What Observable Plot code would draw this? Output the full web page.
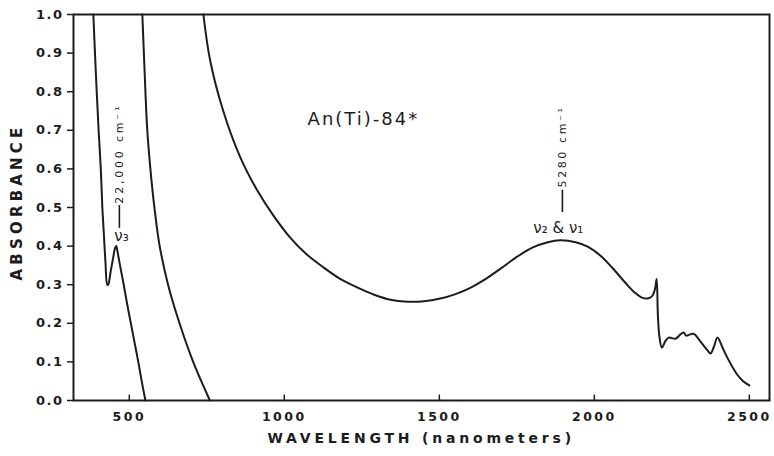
<!DOCTYPE html>
<html>
<head>
<meta charset="utf-8">
<script src="https://cdn.jsdelivr.net/npm/d3@7"></script>
<script src="https://cdn.jsdelivr.net/npm/@observablehq/plot@0.6"></script>
<style>
  html, body { margin: 0; padding: 0; background: #fff; }
  #chart svg { display: block; }
  #chart text { fill: #1c1c1c; }
  g[aria-label="y-axis tick label"] text { letter-spacing: 1.5px; font-weight: bold; }
  g[aria-label="x-axis tick label"] text { letter-spacing: 2.5px; font-weight: bold; }
</style>
</head>
<body>
<div id="chart"></div>
<script>
// ---- data ----
const xTicks = [500, 1000, 1500, 2000, 2500];
const yTicks = [0, 0.1, 0.2, 0.3, 0.4, 0.5, 0.6, 0.7, 0.8, 0.9, 1.0];

// curve 1 (leftmost, with the nu3 feature)
const curve1Nm  = [384, 392, 401, 408, 413, 418, 423, 429, 432, 440, 448, 454, 458, 461, 470, 482, 493, 505, 517, 529, 540, 552];
const curve1Abs = [1.0, 0.85, 0.7, 0.6, 0.5, 0.43, 0.36, 0.30, 0.30, 0.335, 0.37, 0.395, 0.40, 0.39, 0.35, 0.30, 0.25, 0.20, 0.15, 0.10, 0.05, 0.0];

// curve 2 (middle)
const curve2Nm  = [542, 547, 552, 558, 568, 581, 598, 625, 662, 706, 760];
const curve2Abs = [1.0, 0.9, 0.8, 0.7, 0.6, 0.5, 0.4, 0.3, 0.2, 0.1, 0.0];

// curve 3 (An(Ti)-84*)
const curve3Nm  = [739, 761, 803, 858, 913, 965, 1019, 1070, 1126, 1180, 1235, 1290, 1342, 1397, 1450, 1503, 1550, 1600, 1650, 1700, 1750, 1800, 1850, 1890, 1940, 1980, 2020, 2060, 2100, 2130, 2155, 2175, 2188, 2196, 2201, 2205, 2210, 2218, 2230, 2240, 2262, 2276, 2288, 2296, 2305, 2320, 2345, 2365, 2375, 2386, 2397, 2412, 2429, 2460, 2480, 2500];
const curve3Abs = [1.0, 0.88, 0.75, 0.63, 0.544, 0.479, 0.422, 0.38, 0.345, 0.315, 0.293, 0.274, 0.261, 0.256, 0.257, 0.264, 0.275, 0.292, 0.315, 0.343, 0.372, 0.396, 0.41, 0.415, 0.41, 0.398, 0.375, 0.342, 0.305, 0.28, 0.266, 0.265, 0.272, 0.29, 0.315, 0.22, 0.165, 0.137, 0.155, 0.163, 0.16, 0.17, 0.176, 0.168, 0.17, 0.173, 0.15, 0.13, 0.122, 0.14, 0.163, 0.14, 0.111, 0.068, 0.05, 0.039];

// annotations (data-space anchors)
const sampleLabel = ["An(Ti)-84*"];
const sampleAt = [1075, 0.728];
const bandLabels = ["ν₃", "ν₂ & ν₁"];
const bandNm = [475, 1884];
const bandAbs = [0.425, 0.447];
const waveLabels = ["22,000 cm⁻¹", "5280 cm⁻¹"];
const waveNm = [468, 1897];
const waveAbsStart = [0.51, 0.552];
const barAbsLow = [0.446, 0.487];
const barAbsHigh = [0.505, 0.545];

const xLabel = "WAVELENGTH (nanometers)";
const yLabel = "ABSORBANCE";

// ---- build tables ----
const toRows = (xs, ys, name) => xs.map((x, i) => ({nm: x, abs: ys[i], curve: name}));
const rows = [
  ...toRows(curve1Nm, curve1Abs, "c1"),
  ...toRows(curve2Nm, curve2Abs, "c2"),
  ...toRows(curve3Nm, curve3Abs, "c3")
];
const bands = bandLabels.map((t, i) => ({t, x: bandNm[i], y: bandAbs[i]}));
const waves = waveLabels.map((t, i) => ({t, x: waveNm[i], y: waveAbsStart[i], y1: barAbsLow[i], y2: barAbsHigh[i]}));

const chart = Plot.plot({
  width: 774,
  height: 456,
  marginLeft: 73,
  marginRight: 5,
  marginTop: 14,
  marginBottom: 56,
  style: {fontFamily: "DejaVu Sans, sans-serif", fontSize: "13px", background: "#fff", color: "#1c1c1c"},
  x: {domain: [320, 2565]},
  y: {domain: [0, 1]},
  marks: [
    Plot.axisY({ticks: yTicks, tickFormat: d3.format(".1f"), tickSize: 6, tickPadding: 4, label: null, strokeWidth: 1.5, fontSize: 13}),
    Plot.axisX({ticks: xTicks, tickFormat: d => String(d), tickSize: 0, tickPadding: 12, label: null, fontSize: 12.5}),
    Plot.ruleX(xTicks, {x: d => d, y1: 0, y2: 0.014, strokeWidth: 1.5, stroke: "#1c1c1c"}),
    Plot.frame({stroke: "#1c1c1c", strokeWidth: 2}),
    Plot.line(rows, {x: "nm", y: "abs", z: "curve", curve: "catmull-rom", stroke: "#1c1c1c", strokeWidth: 2}),
    Plot.text(sampleLabel, {x: sampleAt[0], y: sampleAt[1], text: d => d, textAnchor: "start", fontSize: 18}),
    Plot.text(bands, {x: "x", y: "y", text: "t", fontSize: 15}),
    Plot.ruleX(waves, {x: "x", y1: "y1", y2: "y2", strokeWidth: 1.6, stroke: "#1c1c1c"}),
    Plot.text(waves, {x: "x", y: "y", text: "t", rotate: -90, textAnchor: "start", fontSize: 11}),
    Plot.text([xLabel], {frameAnchor: "bottom", text: d => d, textAnchor: "start", dx: -154, dy: 42, fontSize: 14}),
    Plot.text([yLabel], {frameAnchor: "left", text: d => d, rotate: -90, textAnchor: "start", dx: -56, dy: 73, fontSize: 15})
  ]
});

// letter spacing / weight, as in the typeset original
const spacing = new Map([
  [xLabel, ["3.8px", "bold"]],
  [yLabel, ["4.2px", "bold"]],
  [sampleLabel[0], ["2px", "normal"]],
  [waveLabels[0], ["2.8px", "normal"]],
  [waveLabels[1], ["2.6px", "normal"]]
]);
d3.select(chart).selectAll("text").each(function() {
  const s = spacing.get(this.textContent);
  if (s) { this.style.letterSpacing = s[0]; this.style.fontWeight = s[1]; }
});
document.getElementById("chart").appendChild(chart);
</script>
</body>
</html>
